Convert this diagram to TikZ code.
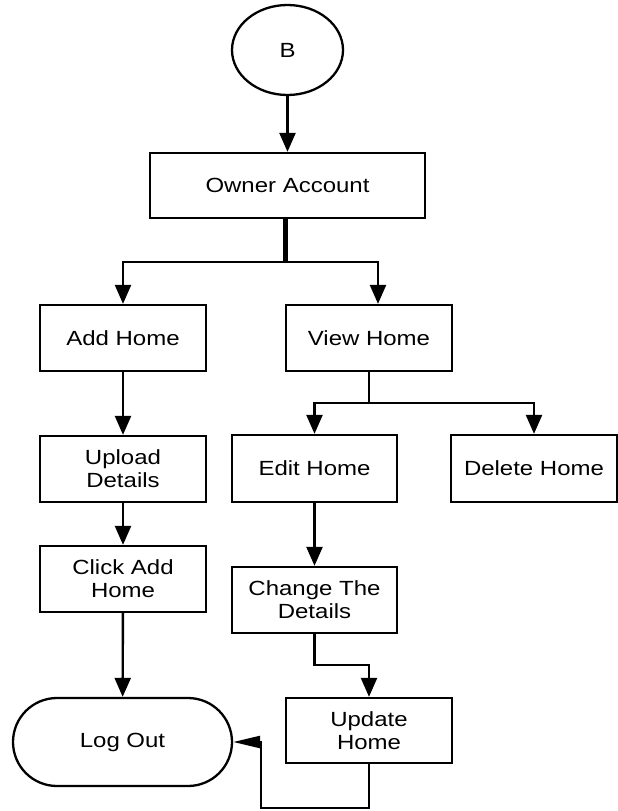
\documentclass[tikz,border=0pt]{standalone}
\usepackage{fontspec}
\setmainfont[FakeStretch=1.17]{Liberation Sans}
\usetikzlibrary{arrows.meta,shapes.geometric}
\begin{document}
\begin{tikzpicture}[x=1pt,y=-1pt,
  every node/.style={font=\fontsize{20.5}{23}\selectfont, align=center, inner sep=0pt},
  box/.style={draw, line width=2.3pt, minimum width=166pt, minimum height=66pt},
  term/.style={draw, line width=2.3pt, minimum width=219pt, minimum height=88pt, rounded corners=44pt},
  conn/.style={line width=2.4pt},
  arr/.style={conn, -{Triangle[width=16pt,length=19pt]}},
  arrflat/.style={conn, -{Triangle[width=12pt,length=27pt]}}]
  \useasboundingbox (0,0) rectangle (618,811);

  % nodes
  \node[draw, ellipse, line width=2.3pt, minimum width=111pt, minimum height=90pt] (b) at (287.5,50) {B};
  \node[box, minimum width=275pt, minimum height=65pt] (owner) at (287.5,185.5) {Owner Account};
  \node[box] (add) at (123,338) {Add Home};
  \node[box] (view) at (369,338) {View Home};
  \node[box] (upload) at (123,469) {Upload\\Details};
  \node[box] (click) at (123,579) {Click Add\\Home};
  \node[box, minimum width=165pt, minimum height=67pt] (edit) at (314.5,468.5) {Edit Home};
  \node[box, minimum height=67pt] (delete) at (534,468.5) {Delete Home};
  \node[box, minimum width=165pt] (change) at (314.5,600) {Change The\\Details};
  \node[box, minimum height=65pt] (update) at (369,730.5) {Update\\Home};
  \node[term] (logout) at (122.5,742) {Log Out};

  % junction and bend points
  \coordinate (split) at (285,262);
  \coordinate (vsplit) at (369,403);
  \coordinate (cbend) at (314.5,665);
  \coordinate (ubend) at (261,808);

  % connectors
  \draw[arr] (b) -- (owner);
  \draw[line width=5pt] (285,218) -- (split);
  \draw[arr] (split) -| (add.north);
  \draw[arr] (split) -| ([xshift=9pt]view.north);
  \draw[arr] (add) -- (upload);
  \draw[arr] (upload) -- (click);
  \draw[arr] (click) -- (logout);
  \draw[conn] (view.south) -- (vsplit);
  \draw[arr] (vsplit) -| (edit.north);
  \draw[arr] (vsplit) -| (delete.north);
  \draw[arr] (edit) -- (change);
  \draw[arr] (change.south) |- (cbend -| update.north) -- (update.north);
  \draw[arrflat] (update.south) |- (ubend) |- (logout.east);
\end{tikzpicture}
\end{document}
